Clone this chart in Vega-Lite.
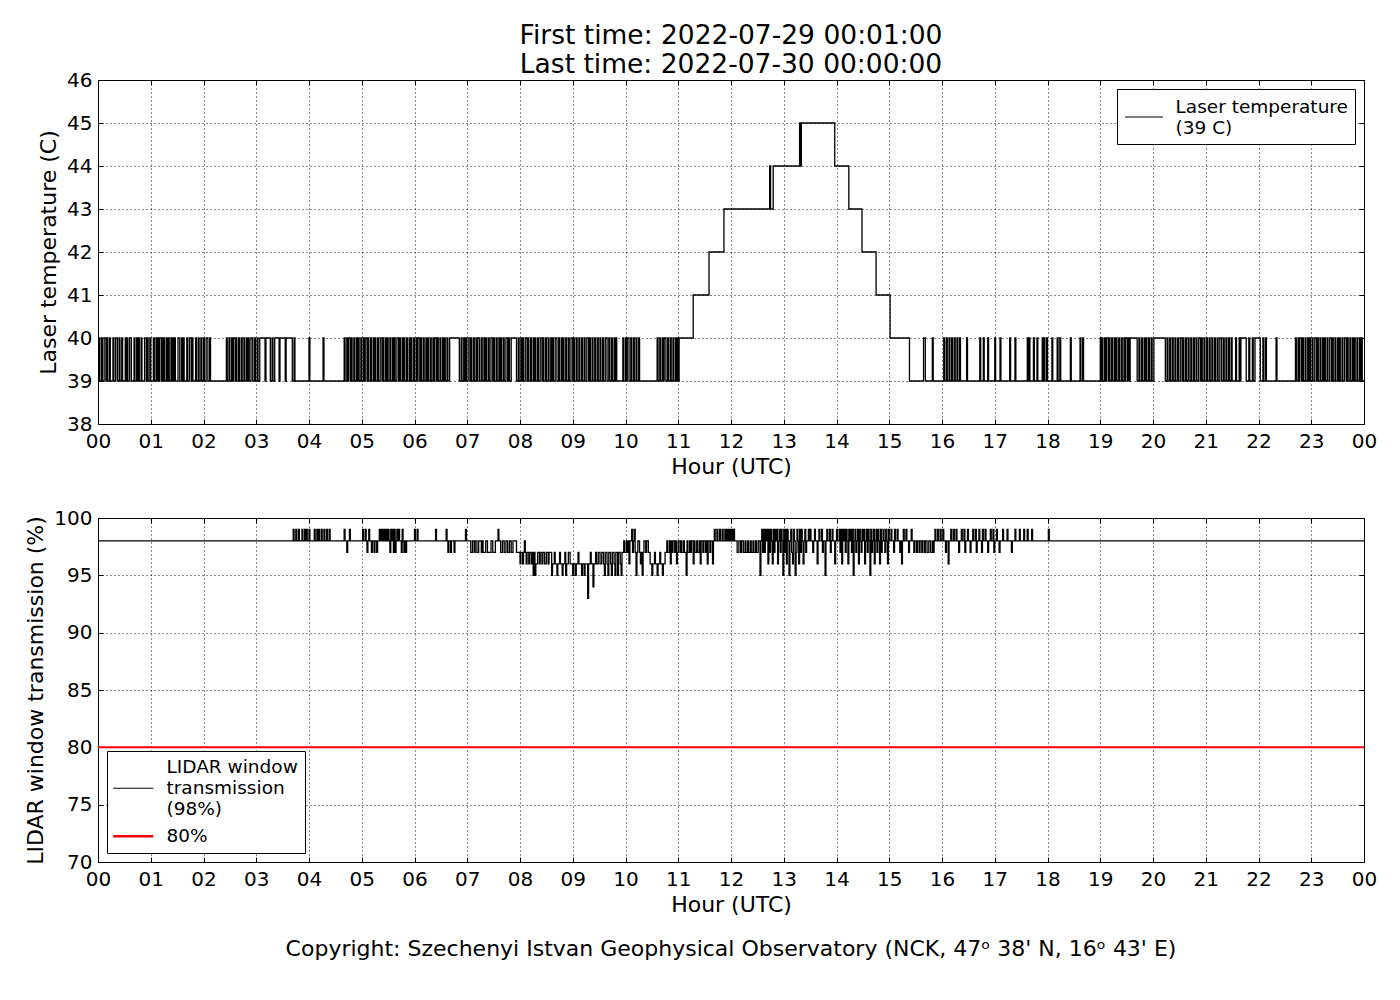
{
"$schema": "https://vega.github.io/schema/vega-lite/v6.json",
"background": "white",
"padding": {"left": 24, "top": 22, "right": 5, "bottom": 5},
"config": {
 "font": "DejaVu Sans",
 "view": {"stroke": "black", "strokeWidth": 1, "fill": "white"},
 "axis": {"labelFontSize": 20, "titleFontSize": 22, "titleFontWeight": "normal", "labelColor": "black", "titleColor": "black", "tickColor": "black", "tickSize": -5, "tickWidth": 1, "domain": false, "gridColor": "black", "gridDash": [1, 3], "gridOpacity": 0.9, "gridWidth": 1, "labelFlush": false, "labelOverlap": false, "labelBound": false},
 "legend": {"title": null, "fillColor": "white", "strokeColor": "black", "padding": 7, "offset": 9, "labelFontSize": 18.5, "labelColor": "black", "labelLimit": 500, "cornerRadius": 0}
},
"resolve": {"scale": {"color": "independent"}, "legend": {"color": "independent"}},
"datasets": {
"temp": [
{"m":0,"v":39},{"m":1,"v":40},{"m":2,"v":39},{"m":4,"v":40},{"m":5,"v":39},{"m":7,"v":40},{"m":9,"v":39},{"m":10,"v":40},{"m":11,"v":39},{"m":13,"v":40},{"m":14,"v":39},{"m":17,"v":40},{"m":18,"v":39},{"m":20,"v":40},{"m":22,"v":39},{"m":24,"v":40},{"m":25,"v":39},{"m":27,"v":40},{"m":28,"v":39},{"m":31,"v":40},{"m":32,"v":39},{"m":33,"v":40},{"m":34,"v":39},{"m":36,"v":40},{"m":38,"v":39},{"m":41,"v":40},{"m":42,"v":39},{"m":44,"v":40},{"m":45,"v":39},{"m":46,"v":40},{"m":47,"v":39},{"m":49,"v":40},{"m":50,"v":39},{"m":53,"v":40},{"m":55,"v":39},{"m":56,"v":40},{"m":57,"v":39},{"m":59,"v":40},{"m":60,"v":39},{"m":63,"v":40},{"m":64,"v":39},{"m":66,"v":40},{"m":67,"v":39},{"m":68,"v":40},{"m":69,"v":39},{"m":70,"v":40},{"m":72,"v":39},{"m":73,"v":40},{"m":74,"v":39},{"m":75,"v":40},{"m":76,"v":39},{"m":78,"v":40},{"m":79,"v":39},{"m":80,"v":40},{"m":81,"v":39},{"m":83,"v":40},{"m":84,"v":39},{"m":85,"v":40},{"m":86,"v":39},{"m":87,"v":40},{"m":88,"v":39},{"m":91,"v":40},{"m":93,"v":39},{"m":95,"v":40},{"m":96,"v":39},{"m":97,"v":40},{"m":98,"v":39},{"m":101,"v":40},{"m":102,"v":39},{"m":104,"v":40},{"m":106,"v":39},{"m":107,"v":40},{"m":108,"v":39},{"m":111,"v":40},{"m":112,"v":39},{"m":114,"v":40},{"m":115,"v":39},{"m":117,"v":40},{"m":118,"v":39},{"m":120,"v":40},{"m":121,"v":39},{"m":123,"v":40},{"m":125,"v":39},{"m":127,"v":40},{"m":128,"v":39},
{"m":146,"v":40},{"m":147,"v":39},{"m":149,"v":40},{"m":150,"v":39},{"m":152,"v":40},{"m":153,"v":39},{"m":154,"v":40},{"m":156,"v":39},{"m":157,"v":40},{"m":158,"v":39},{"m":160,"v":40},{"m":161,"v":39},{"m":163,"v":40},{"m":164,"v":39},{"m":166,"v":40},{"m":167,"v":39},{"m":169,"v":40},{"m":170,"v":39},{"m":171,"v":40},{"m":172,"v":39},{"m":174,"v":40},{"m":176,"v":39},{"m":178,"v":40},{"m":179,"v":39},{"m":181,"v":40},{"m":182,"v":39},{"m":184,"v":40},{"m":190,"v":39},{"m":191,"v":40},{"m":196,"v":39},{"m":198,"v":40},{"m":199,"v":39},{"m":201,"v":40},{"m":206,"v":39},{"m":207,"v":40},{"m":213,"v":39},{"m":214,"v":40},{"m":221,"v":39},{"m":223,"v":40},{"m":224,"v":39},{"m":240,"v":40},{"m":241,"v":39},{"m":256,"v":40},{"m":257,"v":39},
{"m":280,"v":40},{"m":281,"v":39},{"m":283,"v":40},{"m":284,"v":39},{"m":285,"v":40},{"m":287,"v":39},{"m":288,"v":40},{"m":289,"v":39},{"m":291,"v":40},{"m":292,"v":39},{"m":294,"v":40},{"m":295,"v":39},{"m":296,"v":40},{"m":297,"v":39},{"m":299,"v":40},{"m":300,"v":39},{"m":302,"v":40},{"m":303,"v":39},{"m":304,"v":40},{"m":306,"v":39},{"m":307,"v":40},{"m":308,"v":39},{"m":310,"v":40},{"m":311,"v":39},{"m":313,"v":40},{"m":314,"v":39},{"m":315,"v":40},{"m":316,"v":39},{"m":318,"v":40},{"m":319,"v":39},{"m":321,"v":40},{"m":323,"v":39},{"m":324,"v":40},{"m":325,"v":39},{"m":327,"v":40},{"m":328,"v":39},{"m":329,"v":40},{"m":330,"v":39},{"m":332,"v":40},{"m":333,"v":39},{"m":335,"v":40},{"m":336,"v":39},{"m":337,"v":40},{"m":338,"v":39},{"m":340,"v":40},{"m":342,"v":39},{"m":343,"v":40},{"m":344,"v":39},{"m":346,"v":40},{"m":347,"v":39},{"m":348,"v":40},{"m":349,"v":39},{"m":351,"v":40},{"m":352,"v":39},{"m":354,"v":40},{"m":355,"v":39},{"m":356,"v":40},{"m":357,"v":39},{"m":359,"v":40},{"m":360,"v":39},{"m":362,"v":40},{"m":363,"v":39},{"m":364,"v":40},{"m":366,"v":39},{"m":367,"v":40},{"m":368,"v":39},{"m":370,"v":40},{"m":371,"v":39},{"m":373,"v":40},{"m":374,"v":39},{"m":375,"v":40},{"m":376,"v":39},{"m":378,"v":40},{"m":379,"v":39},{"m":381,"v":40},{"m":382,"v":39},{"m":383,"v":40},{"m":385,"v":39},{"m":386,"v":40},{"m":387,"v":39},{"m":389,"v":40},{"m":390,"v":39},{"m":392,"v":40},{"m":393,"v":39},{"m":394,"v":40},{"m":395,"v":39},{"m":397,"v":40},{"m":398,"v":39},{"m":400,"v":40},{"m":411,"v":39},
{"m":413,"v":40},{"m":414,"v":39},{"m":416,"v":40},{"m":417,"v":39},{"m":418,"v":40},{"m":419,"v":39},{"m":421,"v":40},{"m":423,"v":39},{"m":424,"v":40},{"m":425,"v":39},{"m":427,"v":40},{"m":428,"v":39},{"m":430,"v":40},{"m":431,"v":39},{"m":432,"v":40},{"m":434,"v":39},{"m":436,"v":40},{"m":437,"v":39},{"m":439,"v":40},{"m":440,"v":39},{"m":441,"v":40},{"m":442,"v":39},{"m":444,"v":40},{"m":445,"v":39},{"m":447,"v":40},{"m":449,"v":39},{"m":450,"v":40},{"m":451,"v":39},{"m":453,"v":40},{"m":454,"v":39},{"m":456,"v":40},{"m":457,"v":39},{"m":458,"v":40},{"m":459,"v":39},{"m":461,"v":40},{"m":462,"v":39},{"m":464,"v":40},{"m":466,"v":39},{"m":467,"v":40},{"m":468,"v":39},{"m":470,"v":40},{"m":476,"v":39},
{"m":478,"v":40},{"m":479,"v":39},{"m":481,"v":40},{"m":482,"v":39},{"m":483,"v":40},{"m":484,"v":39},{"m":486,"v":40},{"m":488,"v":39},{"m":489,"v":40},{"m":490,"v":39},{"m":492,"v":40},{"m":493,"v":39},{"m":495,"v":40},{"m":496,"v":39},{"m":497,"v":40},{"m":498,"v":39},{"m":500,"v":40},{"m":501,"v":39},{"m":503,"v":40},{"m":505,"v":39},{"m":506,"v":40},{"m":507,"v":39},{"m":509,"v":40},{"m":510,"v":39},{"m":512,"v":40},{"m":513,"v":39},{"m":515,"v":40},{"m":516,"v":39},{"m":517,"v":40},{"m":518,"v":39},{"m":520,"v":40},{"m":522,"v":39},{"m":524,"v":40},{"m":525,"v":39},{"m":527,"v":40},{"m":528,"v":39},{"m":529,"v":40},{"m":530,"v":39},{"m":532,"v":40},{"m":533,"v":39},{"m":535,"v":40},{"m":536,"v":39},{"m":538,"v":40},{"m":540,"v":39},{"m":541,"v":40},{"m":542,"v":39},{"m":544,"v":40},{"m":545,"v":39},{"m":547,"v":40},{"m":548,"v":39},{"m":550,"v":40},{"m":551,"v":39},{"m":553,"v":40},{"m":554,"v":39},{"m":556,"v":40},{"m":558,"v":39},{"m":559,"v":40},{"m":560,"v":39},{"m":562,"v":40},{"m":563,"v":39},{"m":565,"v":40},{"m":566,"v":39},{"m":568,"v":40},{"m":569,"v":39},{"m":571,"v":40},{"m":572,"v":39},{"m":574,"v":40},{"m":575,"v":39},{"m":577,"v":40},{"m":579,"v":39},{"m":581,"v":40},{"m":582,"v":39},{"m":584,"v":40},{"m":585,"v":39},{"m":587,"v":40},{"m":588,"v":39},{"m":589,"v":40},{"m":590,"v":39},{"m":597,"v":40},{"m":598,"v":39},{"m":600,"v":40},{"m":601,"v":39},{"m":602,"v":40},{"m":604,"v":39},{"m":606,"v":40},{"m":607,"v":39},{"m":609,"v":40},{"m":610,"v":39},{"m":612,"v":40},{"m":613,"v":39},{"m":615,"v":40},{"m":616,"v":39},{"m":636,"v":40},{"m":637,"v":39},{"m":639,"v":40},{"m":640,"v":39},{"m":642,"v":40},{"m":643,"v":39},{"m":644,"v":40},{"m":646,"v":39},{"m":648,"v":40},{"m":649,"v":39},{"m":651,"v":40},{"m":652,"v":39},{"m":654,"v":40},{"m":655,"v":39},{"m":657,"v":40},{"m":658,"v":39},{"m":659,"v":40},{"m":660,"v":39},
{"m":661,"v":40},{"m":677,"v":41},{"m":695,"v":42},{"m":712,"v":43},{"m":764,"v":44},{"m":765,"v":43},{"m":768,"v":44},{"m":798,"v":45},{"m":799,"v":44},{"m":800,"v":45},{"m":838,"v":44},{"m":854,"v":43},{"m":869,"v":42},{"m":885,"v":41},{"m":901,"v":40},{"m":923,"v":39},
{"m":939,"v":40},{"m":941,"v":39},{"m":949,"v":40},{"m":950,"v":39},{"m":962,"v":40},{"m":963,"v":39},{"m":965,"v":40},{"m":966,"v":39},{"m":968,"v":40},{"m":969,"v":39},{"m":971,"v":40},{"m":972,"v":39},{"m":974,"v":40},{"m":975,"v":39},{"m":977,"v":40},{"m":978,"v":39},{"m":980,"v":40},{"m":981,"v":39},{"m":988,"v":40},{"m":989,"v":39},{"m":1003,"v":40},{"m":1004,"v":39},{"m":1007,"v":40},{"m":1008,"v":39},{"m":1012,"v":40},{"m":1013,"v":39},{"m":1020,"v":40},{"m":1021,"v":39},{"m":1026,"v":40},{"m":1027,"v":39},{"m":1037,"v":40},{"m":1038,"v":39},{"m":1043,"v":40},{"m":1044,"v":39},{"m":1057,"v":40},{"m":1058,"v":39},{"m":1059,"v":40},{"m":1060,"v":39},{"m":1064,"v":40},{"m":1065,"v":39},{"m":1068,"v":40},{"m":1069,"v":39},{"m":1074,"v":40},{"m":1075,"v":39},{"m":1076,"v":40},{"m":1077,"v":39},{"m":1079,"v":40},{"m":1080,"v":39},{"m":1085,"v":40},{"m":1086,"v":39},{"m":1091,"v":40},{"m":1092,"v":39},{"m":1094,"v":40},{"m":1095,"v":39},{"m":1106,"v":40},{"m":1107,"v":39},{"m":1117,"v":40},{"m":1118,"v":39},{"m":1120,"v":40},{"m":1121,"v":39},
{"m":1140,"v":40},{"m":1141,"v":39},{"m":1142,"v":40},{"m":1143,"v":39},{"m":1145,"v":40},{"m":1146,"v":39},{"m":1147,"v":40},{"m":1149,"v":39},{"m":1150,"v":40},{"m":1151,"v":39},{"m":1153,"v":40},{"m":1154,"v":39},{"m":1156,"v":40},{"m":1157,"v":39},{"m":1158,"v":40},{"m":1159,"v":39},{"m":1161,"v":40},{"m":1162,"v":39},{"m":1164,"v":40},{"m":1165,"v":39},{"m":1167,"v":40},{"m":1168,"v":39},{"m":1169,"v":40},{"m":1171,"v":39},{"m":1172,"v":40},{"m":1173,"v":39},{"m":1174,"v":40},{"m":1182,"v":39},{"m":1184,"v":40},{"m":1185,"v":39},{"m":1187,"v":40},{"m":1188,"v":39},{"m":1190,"v":40},{"m":1191,"v":39},{"m":1192,"v":40},{"m":1193,"v":39},{"m":1195,"v":40},{"m":1196,"v":39},{"m":1198,"v":40},{"m":1199,"v":39},{"m":1201,"v":40},{"m":1214,"v":39},
{"m":1216,"v":40},{"m":1217,"v":39},{"m":1219,"v":40},{"m":1220,"v":39},{"m":1222,"v":40},{"m":1223,"v":39},{"m":1225,"v":40},{"m":1226,"v":39},{"m":1228,"v":40},{"m":1229,"v":39},{"m":1231,"v":40},{"m":1233,"v":39},{"m":1234,"v":40},{"m":1235,"v":39},{"m":1237,"v":40},{"m":1238,"v":39},{"m":1240,"v":40},{"m":1241,"v":39},{"m":1243,"v":40},{"m":1244,"v":39},{"m":1246,"v":40},{"m":1247,"v":39},{"m":1249,"v":40},{"m":1250,"v":39},{"m":1252,"v":40},{"m":1254,"v":39},{"m":1255,"v":40},{"m":1256,"v":39},{"m":1258,"v":40},{"m":1259,"v":39},{"m":1261,"v":40},{"m":1262,"v":39},{"m":1264,"v":40},{"m":1265,"v":39},{"m":1267,"v":40},{"m":1268,"v":39},{"m":1270,"v":40},{"m":1271,"v":39},{"m":1273,"v":40},{"m":1274,"v":39},{"m":1276,"v":40},{"m":1278,"v":39},{"m":1280,"v":40},{"m":1281,"v":39},{"m":1283,"v":40},{"m":1284,"v":39},{"m":1286,"v":40},{"m":1287,"v":39},{"m":1289,"v":40},{"m":1290,"v":39},
{"m":1294,"v":40},{"m":1295,"v":39},{"m":1298,"v":40},{"m":1299,"v":39},{"m":1300,"v":40},{"m":1306,"v":39},{"m":1309,"v":40},{"m":1310,"v":39},{"m":1313,"v":40},{"m":1314,"v":39},{"m":1316,"v":40},{"m":1322,"v":39},{"m":1325,"v":40},{"m":1326,"v":39},{"m":1328,"v":40},{"m":1329,"v":39},{"m":1340,"v":40},{"m":1341,"v":39},
{"m":1362,"v":40},{"m":1363,"v":39},{"m":1365,"v":40},{"m":1366,"v":39},{"m":1367,"v":40},{"m":1369,"v":39},{"m":1370,"v":40},{"m":1371,"v":39},{"m":1373,"v":40},{"m":1374,"v":39},{"m":1376,"v":40},{"m":1377,"v":39},{"m":1378,"v":40},{"m":1379,"v":39},{"m":1381,"v":40},{"m":1382,"v":39},{"m":1384,"v":40},{"m":1386,"v":39},{"m":1387,"v":40},{"m":1388,"v":39},{"m":1390,"v":40},{"m":1391,"v":39},{"m":1393,"v":40},{"m":1394,"v":39},{"m":1395,"v":40},{"m":1396,"v":39},{"m":1398,"v":40},{"m":1399,"v":39},{"m":1401,"v":40},{"m":1403,"v":39},{"m":1404,"v":40},{"m":1405,"v":39},{"m":1407,"v":40},{"m":1408,"v":39},{"m":1410,"v":40},{"m":1411,"v":39},{"m":1412,"v":40},{"m":1413,"v":39},{"m":1415,"v":40},{"m":1416,"v":39},{"m":1418,"v":40},{"m":1420,"v":39},{"m":1421,"v":40},{"m":1422,"v":39},{"m":1424,"v":40},{"m":1425,"v":39},{"m":1427,"v":40},{"m":1428,"v":39},{"m":1429,"v":40},{"m":1430,"v":39},{"m":1432,"v":40},{"m":1433,"v":39},{"m":1435,"v":40},{"m":1436,"v":39},{"m":1437,"v":40},{"m":1438,"v":39},{"m":1440,"v":39}
],
"trans": [
{"m":0,"v":98},{"m":222,"v":99},{"m":223,"v":98},{"m":225,"v":99},{"m":226,"v":98},{"m":228,"v":99},{"m":229,"v":98},{"m":232,"v":99},{"m":233,"v":98},{"m":235,"v":99},{"m":236,"v":98},{"m":237,"v":99},{"m":238,"v":98},{"m":240,"v":99},{"m":241,"v":98},{"m":246,"v":99},{"m":247,"v":98},{"m":249,"v":99},{"m":250,"v":98},{"m":251,"v":99},{"m":252,"v":98},{"m":254,"v":99},{"m":255,"v":98},{"m":257,"v":99},{"m":258,"v":98},{"m":260,"v":99},{"m":261,"v":98},{"m":263,"v":99},{"m":264,"v":98},
{"m":280,"v":99},{"m":281,"v":98},{"m":283,"v":97},{"m":284,"v":98},{"m":286,"v":99},{"m":287,"v":98},
{"m":301,"v":99},{"m":302,"v":98},{"m":304,"v":99},{"m":305,"v":98},{"m":306,"v":97},{"m":307,"v":98},{"m":308,"v":99},{"m":309,"v":98},{"m":311,"v":97},{"m":312,"v":98},{"m":314,"v":97},{"m":315,"v":98},{"m":317,"v":97},{"m":318,"v":98},
{"m":320,"v":99},{"m":321,"v":98},{"m":322,"v":99},{"m":323,"v":98},{"m":324,"v":99},{"m":325,"v":98},{"m":326,"v":99},{"m":327,"v":98},{"m":328,"v":99},{"m":329,"v":98},{"m":330,"v":99},{"m":331,"v":98},{"m":332,"v":97},{"m":333,"v":99},{"m":334,"v":98},{"m":335,"v":99},{"m":336,"v":97},{"m":337,"v":99},{"m":338,"v":97},{"m":339,"v":98},{"m":340,"v":99},{"m":341,"v":98},{"m":342,"v":99},{"m":343,"v":98},{"m":345,"v":97},{"m":346,"v":99},{"m":347,"v":98},{"m":348,"v":97},{"m":349,"v":98},{"m":350,"v":97},{"m":351,"v":98},
{"m":360,"v":99},{"m":361,"v":98},{"m":363,"v":99},{"m":364,"v":98},{"m":384,"v":99},{"m":385,"v":98},{"m":396,"v":99},{"m":397,"v":98},{"m":398,"v":97},{"m":399,"v":98},{"m":401,"v":97},{"m":402,"v":98},{"m":405,"v":97},{"m":406,"v":98},{"m":418,"v":99},{"m":419,"v":98},
{"m":424,"v":97},{"m":426,"v":98},{"m":428,"v":97},{"m":429,"v":98},{"m":431,"v":97},{"m":433,"v":98},{"m":436,"v":97},{"m":437,"v":98},{"m":438,"v":97},{"m":441,"v":98},{"m":443,"v":97},{"m":447,"v":98},{"m":449,"v":97},{"m":452,"v":98},
{"m":455,"v":99},{"m":456,"v":98},{"m":458,"v":97},{"m":460,"v":98},{"m":462,"v":97},{"m":464,"v":98},{"m":466,"v":97},{"m":468,"v":98},{"m":470,"v":97},{"m":472,"v":98},
{"m":476,"v":97},{"m":480,"v":96},{"m":481,"v":97},{"m":483,"v":96},{"m":484,"v":97},{"m":485,"v":98},{"m":486,"v":97},{"m":487,"v":96},{"m":488,"v":97},{"m":490,"v":96},{"m":491,"v":97},{"m":493,"v":96},{"m":494,"v":97},{"m":495,"v":95},{"m":496,"v":97},{"m":497,"v":95},{"m":498,"v":96},{"m":500,"v":97},{"m":502,"v":96},{"m":503,"v":97},{"m":505,"v":96},{"m":506,"v":97},{"m":508,"v":96},{"m":510,"v":97},{"m":512,"v":96},{"m":513,"v":97},{"m":516,"v":95},{"m":517,"v":96},{"m":519,"v":97},{"m":520,"v":96},{"m":522,"v":95},{"m":523,"v":96},{"m":525,"v":97},{"m":526,"v":96},{"m":528,"v":95},{"m":529,"v":96},{"m":531,"v":97},{"m":532,"v":95},{"m":533,"v":96},{"m":535,"v":97},{"m":537,"v":96},{"m":540,"v":95},{"m":541,"v":96},{"m":543,"v":95},{"m":544,"v":96},{"m":546,"v":97},{"m":547,"v":96},{"m":550,"v":95},{"m":551,"v":96},{"m":553,"v":95},{"m":554,"v":96},{"m":557,"v":93},{"m":558,"v":96},{"m":560,"v":97},{"m":561,"v":96},{"m":563,"v":94},{"m":564,"v":96},{"m":566,"v":97},{"m":567,"v":96},{"m":569,"v":97},{"m":571,"v":96},{"m":573,"v":97},{"m":575,"v":96},{"m":576,"v":95},{"m":577,"v":97},{"m":579,"v":96},{"m":580,"v":95},{"m":581,"v":97},{"m":583,"v":96},{"m":584,"v":95},{"m":585,"v":97},{"m":587,"v":96},{"m":588,"v":95},{"m":589,"v":97},{"m":591,"v":95},{"m":592,"v":97},{"m":594,"v":96},{"m":595,"v":95},{"m":596,"v":97},
{"m":598,"v":98},{"m":599,"v":97},{"m":601,"v":98},{"m":602,"v":97},{"m":603,"v":98},{"m":604,"v":96},{"m":605,"v":98},{"m":607,"v":99},{"m":608,"v":97},{"m":609,"v":98},{"m":610,"v":99},{"m":611,"v":97},{"m":612,"v":95},{"m":613,"v":97},{"m":614,"v":98},{"m":616,"v":97},{"m":617,"v":96},{"m":618,"v":97},{"m":619,"v":95},{"m":620,"v":97},{"m":621,"v":98},{"m":623,"v":97},{"m":624,"v":98},{"m":626,"v":97},
{"m":628,"v":96},{"m":630,"v":95},{"m":631,"v":96},{"m":633,"v":97},{"m":634,"v":96},{"m":636,"v":95},{"m":637,"v":96},{"m":639,"v":97},{"m":640,"v":96},{"m":642,"v":95},{"m":643,"v":96},{"m":645,"v":97},
{"m":647,"v":98},{"m":648,"v":97},{"m":650,"v":98},{"m":651,"v":96},{"m":652,"v":98},{"m":653,"v":97},{"m":654,"v":98},{"m":656,"v":97},{"m":657,"v":98},{"m":658,"v":96},{"m":659,"v":97},{"m":660,"v":98},{"m":662,"v":97},{"m":663,"v":98},{"m":664,"v":97},{"m":666,"v":98},{"m":667,"v":97},{"m":669,"v":95},{"m":670,"v":98},{"m":671,"v":97},{"m":673,"v":98},{"m":674,"v":97},{"m":675,"v":98},{"m":677,"v":96},{"m":678,"v":98},{"m":679,"v":97},{"m":681,"v":98},{"m":682,"v":97},{"m":684,"v":98},{"m":685,"v":96},{"m":686,"v":98},{"m":688,"v":97},{"m":689,"v":98},{"m":691,"v":97},{"m":692,"v":98},{"m":693,"v":96},{"m":694,"v":98},{"m":696,"v":97},{"m":697,"v":98},{"m":699,"v":96},{"m":700,"v":98},{"m":701,"v":99},
{"m":702,"v":98},{"m":704,"v":99},{"m":705,"v":98},{"m":707,"v":99},{"m":708,"v":98},{"m":710,"v":99},{"m":711,"v":98},{"m":713,"v":99},{"m":714,"v":98},{"m":715,"v":99},{"m":716,"v":98},{"m":717,"v":99},{"m":718,"v":98},{"m":719,"v":99},{"m":720,"v":98},{"m":721,"v":99},{"m":722,"v":98},{"m":723,"v":99},{"m":724,"v":98},{"m":727,"v":97},{"m":729,"v":98},{"m":731,"v":97},{"m":732,"v":98},
{"m":734,"v":97},{"m":736,"v":98},{"m":737,"v":97},{"m":739,"v":98},{"m":740,"v":97},{"m":742,"v":98},{"m":743,"v":97},{"m":745,"v":98},{"m":746,"v":97},{"m":748,"v":98},{"m":749,"v":97},{"m":751,"v":98},{"m":753,"v":95},{"m":754,"v":98},{"m":755,"v":99},{"m":756,"v":97},
{"m":757,"v":99},{"m":758,"v":97},{"m":759,"v":99},{"m":760,"v":98},{"m":761,"v":99},{"m":762,"v":96},{"m":763,"v":99},{"m":764,"v":97},{"m":765,"v":99},{"m":766,"v":98},{"m":767,"v":96},{"m":768,"v":99},{"m":769,"v":97},{"m":770,"v":99},{"m":771,"v":98},{"m":772,"v":99},{"m":773,"v":96},{"m":774,"v":98},{"m":775,"v":99},{"m":776,"v":97},{"m":777,"v":99},{"m":778,"v":98},{"m":779,"v":95},{"m":780,"v":99},{"m":781,"v":97},{"m":782,"v":99},
{"m":783,"v":96},{"m":784,"v":99},{"m":785,"v":98},{"m":786,"v":95},{"m":787,"v":98},{"m":788,"v":99},{"m":789,"v":97},{"m":790,"v":96},{"m":791,"v":99},{"m":792,"v":98},{"m":793,"v":95},{"m":794,"v":97},{"m":795,"v":99},{"m":796,"v":98},{"m":797,"v":96},{"m":798,"v":99},{"m":799,"v":97},{"m":800,"v":99},{"m":801,"v":98},{"m":802,"v":96},{"m":803,"v":98},{"m":804,"v":99},{"m":805,"v":97},
{"m":806,"v":98},{"m":808,"v":99},{"m":809,"v":98},{"m":810,"v":99},{"m":811,"v":98},{"m":813,"v":97},{"m":814,"v":98},{"m":815,"v":99},{"m":816,"v":98},{"m":818,"v":96},{"m":819,"v":98},{"m":820,"v":99},{"m":821,"v":98},{"m":823,"v":99},{"m":824,"v":97},{"m":825,"v":98},{"m":827,"v":95},{"m":828,"v":98},{"m":829,"v":99},{"m":830,"v":98},{"m":832,"v":99},{"m":833,"v":97},{"m":834,"v":98},{"m":835,"v":99},{"m":836,"v":98},{"m":838,"v":96},{"m":839,"v":98},{"m":840,"v":99},{"m":841,"v":98},{"m":843,"v":99},
{"m":844,"v":97},{"m":845,"v":99},{"m":846,"v":96},{"m":847,"v":99},{"m":848,"v":98},{"m":849,"v":99},{"m":850,"v":97},{"m":851,"v":99},{"m":852,"v":98},{"m":853,"v":96},{"m":854,"v":99},{"m":855,"v":98},{"m":856,"v":99},{"m":857,"v":97},{"m":858,"v":99},{"m":859,"v":95},{"m":860,"v":98},{"m":861,"v":99},{"m":862,"v":97},{"m":863,"v":98},{"m":864,"v":99},{"m":865,"v":96},{"m":866,"v":99},{"m":867,"v":98},{"m":868,"v":97},{"m":869,"v":99},{"m":870,"v":98},{"m":871,"v":99},{"m":872,"v":96},{"m":873,"v":98},{"m":874,"v":99},{"m":875,"v":97},{"m":876,"v":99},{"m":877,"v":98},{"m":878,"v":95},{"m":879,"v":99},{"m":880,"v":97},{"m":881,"v":98},{"m":882,"v":99},{"m":883,"v":96},{"m":884,"v":98},{"m":885,"v":99},{"m":886,"v":97},{"m":887,"v":99},{"m":888,"v":98},{"m":889,"v":96},{"m":890,"v":99},{"m":891,"v":97},{"m":892,"v":98},{"m":893,"v":99},{"m":894,"v":98},{"m":895,"v":97},{"m":896,"v":99},{"m":897,"v":98},{"m":898,"v":96},{"m":899,"v":99},{"m":900,"v":98},
{"m":902,"v":99},{"m":903,"v":98},{"m":905,"v":97},{"m":906,"v":99},{"m":907,"v":98},{"m":909,"v":99},{"m":910,"v":98},{"m":912,"v":97},{"m":913,"v":98},{"m":914,"v":96},{"m":915,"v":98},{"m":916,"v":99},{"m":917,"v":98},{"m":919,"v":99},{"m":920,"v":98},{"m":922,"v":97},{"m":923,"v":98},{"m":925,"v":99},{"m":926,"v":98},
{"m":928,"v":97},{"m":929,"v":98},{"m":931,"v":97},{"m":932,"v":98},{"m":934,"v":97},{"m":935,"v":98},{"m":937,"v":97},{"m":938,"v":98},{"m":940,"v":97},{"m":941,"v":98},{"m":943,"v":97},{"m":945,"v":98},{"m":947,"v":97},{"m":949,"v":98},{"m":950,"v":97},{"m":951,"v":98},
{"m":952,"v":99},{"m":953,"v":98},{"m":955,"v":99},{"m":956,"v":98},{"m":958,"v":99},{"m":959,"v":98},{"m":961,"v":99},{"m":962,"v":98},{"m":964,"v":97},{"m":965,"v":98},{"m":967,"v":96},{"m":968,"v":98},{"m":970,"v":99},{"m":971,"v":98},
{"m":973,"v":99},{"m":974,"v":98},{"m":976,"v":99},{"m":977,"v":98},{"m":979,"v":97},{"m":980,"v":98},{"m":982,"v":99},{"m":983,"v":98},{"m":985,"v":99},{"m":986,"v":97},{"m":987,"v":98},{"m":989,"v":99},{"m":990,"v":98},{"m":992,"v":97},{"m":993,"v":98},{"m":995,"v":99},{"m":996,"v":98},{"m":998,"v":99},{"m":999,"v":97},{"m":1000,"v":98},{"m":1002,"v":99},{"m":1003,"v":98},{"m":1005,"v":97},{"m":1006,"v":99},{"m":1007,"v":98},{"m":1009,"v":99},{"m":1010,"v":98},{"m":1012,"v":97},{"m":1013,"v":98},{"m":1015,"v":99},{"m":1016,"v":98},{"m":1018,"v":99},{"m":1019,"v":97},{"m":1020,"v":98},{"m":1022,"v":99},{"m":1023,"v":98},{"m":1025,"v":97},{"m":1026,"v":98},
{"m":1029,"v":99},{"m":1030,"v":98},{"m":1034,"v":99},{"m":1035,"v":98},{"m":1039,"v":97},{"m":1040,"v":98},{"m":1043,"v":99},{"m":1044,"v":98},{"m":1048,"v":99},{"m":1049,"v":98},{"m":1053,"v":99},{"m":1054,"v":98},{"m":1057,"v":99},{"m":1058,"v":98},{"m":1062,"v":99},{"m":1063,"v":98},{"m":1081,"v":99},{"m":1082,"v":98},{"m":1440,"v":98}
]
},
"spacing": 94,
"bounds": "flush",
"vconcat": [
{
 "width": 1266, "height": 344,
 "title": {"text": ["First time: 2022-07-29 00:01:00", "Last time: 2022-07-30 00:00:00"], "fontSize": 26.5, "fontWeight": "normal", "lineHeight": 29, "anchor": "middle", "frame": "group", "offset": -8, "color": "black"},
 "data": {"name": "temp"},
 "layer": [
  {
   "mark": {"type": "line", "interpolate": "step-after", "strokeWidth": 1.3, "color": "black"},
   "encoding": {
    "x": {"field": "m", "type": "quantitative", "scale": {"domain": [0, 1440], "nice": false, "zero": false},
          "axis": {"orient": "bottom", "values": [0,60,120,180,240,300,360,420,480,540,600,660,720,780,840,900,960,1020,1080,1140,1200,1260,1320,1380,1440], "labelExpr": "datum.value >= 1440 ? '00' : (datum.value < 600 ? '0' : '') + floor(datum.value / 60)", "title": "Hour (UTC)", "labelPadding": 12, "titlePadding": 5, "grid": true}},
    "y": {"field": "v", "type": "quantitative", "scale": {"domain": [38, 46], "nice": false, "zero": false},
          "axis": {"orient": "left", "values": [38,39,40,41,42,43,44,45,46], "title": "Laser temperature (C)", "labelPadding": 11, "titlePadding": 6, "grid": true}},
    "color": {"datum": "Laser temperature|(39 C)", "scale": {"domain": ["Laser temperature|(39 C)"], "range": ["black"]},
              "legend": {"orient": "top-right", "symbolType": "M-2,1.105H2", "symbolSize": 361, "symbolOffset": 9.5, "symbolStrokeWidth": 1.2, "labelOffset": 21, "labelExpr": "split(datum.label, '|')",
                         "encode": {"labels": {"update": {"lineHeight": {"value": 21}}}}}}
   }
  },
  {
   "mark": {"type": "line", "strokeOpacity": 0},
   "encoding": {
    "x": {"field": "m", "type": "quantitative", "axis": {"orient": "top", "values": [0,60,120,180,240,300,360,420,480,540,600,660,720,780,840,900,960,1020,1080,1140,1200,1260,1320,1380,1440], "labels": false, "title": null, "grid": false}},
    "y": {"field": "v", "type": "quantitative", "axis": {"orient": "right", "values": [38,39,40,41,42,43,44,45,46], "labels": false, "title": null, "grid": false}}
   }
  }
 ],
 "resolve": {"axis": {"x": "independent", "y": "independent"}}
},
{
 "width": 1266, "height": 344,
 "title": {"text": "Copyright: Szechenyi Istvan Geophysical Observatory (NCK, 47ᵒ  38' N, 16ᵒ  43' E)", "orient": "bottom", "fontSize": 22, "fontWeight": "normal", "anchor": "middle", "frame": "group", "offset": 24, "color": "black"},
 "layer": [
  {
   "data": {"name": "trans"},
   "mark": {"type": "line", "interpolate": "step-after", "strokeWidth": 1.3},
   "encoding": {
    "x": {"field": "m", "type": "quantitative", "scale": {"domain": [0, 1440], "nice": false, "zero": false},
          "axis": {"orient": "bottom", "values": [0,60,120,180,240,300,360,420,480,540,600,660,720,780,840,900,960,1020,1080,1140,1200,1260,1320,1380,1440], "labelExpr": "datum.value >= 1440 ? '00' : (datum.value < 600 ? '0' : '') + floor(datum.value / 60)", "title": "Hour (UTC)", "labelPadding": 12, "titlePadding": 5, "grid": true}},
    "y": {"field": "v", "type": "quantitative", "scale": {"domain": [70, 100], "nice": false, "zero": false},
          "axis": {"orient": "left", "values": [70,75,80,85,90,95,100], "title": "LIDAR window transmission (%)", "labelPadding": 11, "titlePadding": 6, "grid": true}},
    "color": {"datum": "LIDAR window|transmission|(98%)", "scale": {"domain": ["LIDAR window|transmission|(98%)", "80%"], "range": ["black", "#ff0000"]},
              "legend": {"orient": "bottom-left", "symbolType": "M-2,0H2", "symbolSize": 400, "symbolOffset": 10, "symbolStrokeWidth": 1.2, "labelOffset": 24, "rowPadding": 8, "labelExpr": "split(datum.label, '|')",
                         "encode": {"labels": {"update": {"lineHeight": {"value": 21}}}, "symbols": {"update": {"strokeWidth": {"signal": "datum.value == '80%' ? 2.5 : 1.2"}, "shape": {"signal": "datum.value == '80%' ? 'M-2,0H2' : 'M-2,2.1H2'"}}}}}}
   }
  },
  {
   "data": {"values": [{"thr": 80}]},
   "mark": {"type": "rule", "strokeWidth": 2},
   "encoding": {
    "y": {"field": "thr", "type": "quantitative", "axis": null},
    "color": {"datum": "80%"}
   }
  },
  {
   "data": {"name": "trans"},
   "mark": {"type": "line", "strokeOpacity": 0},
   "encoding": {
    "x": {"field": "m", "type": "quantitative", "axis": {"orient": "top", "values": [0,60,120,180,240,300,360,420,480,540,600,660,720,780,840,900,960,1020,1080,1140,1200,1260,1320,1380,1440], "labels": false, "title": null, "grid": false}},
    "y": {"field": "v", "type": "quantitative", "axis": {"orient": "right", "values": [70,75,80,85,90,95,100], "labels": false, "title": null, "grid": false}}
   }
  }
 ],
 "resolve": {"axis": {"x": "independent", "y": "independent"}}
}
]
}
